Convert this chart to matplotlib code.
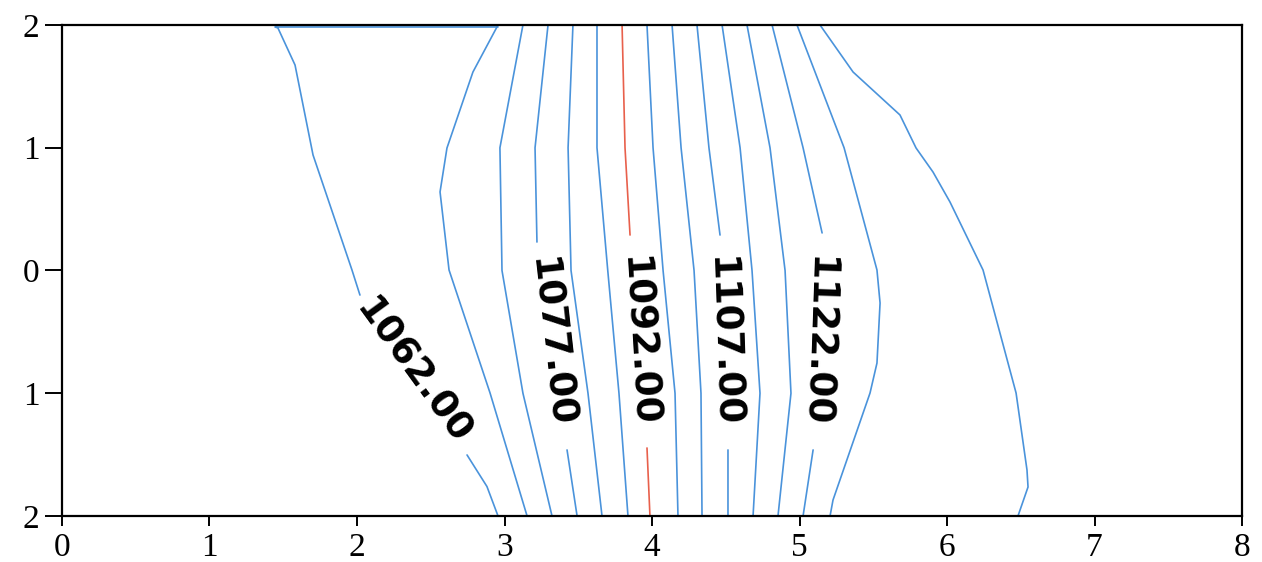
import numpy as np
import matplotlib
matplotlib.use("Agg")
import matplotlib.pyplot as plt

nan = np.nan

# contour levels and the traced line for each one (data units, nan = gap at a label)
levels = [1062, 1067, 1072, 1077, 1082, 1087, 1092, 1097, 1102, 1107, 1112, 1117, 1122, 1127, 1132]
rows = [2, 1, 0, -1, -2]

x_1062 = [2.956, 1.444, 1.464, 1.580, 1.702, 1.966, 2.020, nan, 2.746, 2.881, 2.956]
y_1062 = [1.984, 1.984, 1.976, 1.674, 0.941, 0.004, -0.200, nan, -1.503, -1.760, -2.0]
x_1067 = [2.956, 2.786, 2.610, 2.563, 2.624, 2.902, 3.153]
y_1067 = [2.0, 1.617, 0.998, 0.640, 0.004, -0.998, -2.0]
x_1072 = [3.125, 2.969, 2.983, 3.125, 3.322]
x_1077 = [3.295, 3.207, 3.220, nan, 3.424, 3.492]
y_1077 = [2, 1, 0.232, nan, -1.462, -2]
x_1082 = [3.464, 3.431, 3.451, 3.566, 3.661]
x_1087 = [3.627, 3.627, 3.700, 3.776, 3.837]
x_1092 = [3.797, 3.817, 3.851, nan, 3.966, 3.986]
y_1092 = [2, 1, 0.289, nan, -1.446, -2]
x_1097 = [3.966, 4.007, 4.075, 4.156, 4.176]
x_1102 = [4.136, 4.197, 4.285, 4.332, 4.339]
x_1107 = [4.305, 4.386, 4.461, nan, 4.515, 4.515]
y_1107 = [2, 1, 0.289, nan, -1.462, -2]
x_1112 = [4.475, 4.597, 4.678, 4.732, 4.685]
x_1117 = [4.644, 4.800, 4.902, 4.942, 4.854]
x_1122 = [4.814, 5.024, 5.153, nan, 5.092, 5.024]
y_1122 = [2, 1, 0.306, nan, -1.462, -2]
x_1127 = [4.983, 5.302, 5.525, 5.546, 5.525, 5.478, 5.227, 5.207]
y_1127 = [2, 1, 0.004, -0.265, -0.754, -0.998, -1.870, -2.0]
x_1132 = [5.139, 5.363, 5.681, 5.790, 5.905, 6.020, 6.244, 6.468, 6.542, 6.549, 6.481]
y_1132 = [2, 1.617, 1.267, 0.998, 0.802, 0.558, 0.004, -0.998, -1.625, -1.764, -2.0]

lines = {
    1062: (x_1062, y_1062), 1067: (x_1067, y_1067), 1072: (x_1072, rows),
    1077: (x_1077, y_1077), 1082: (x_1082, rows), 1087: (x_1087, rows),
    1092: (x_1092, y_1092), 1097: (x_1097, rows), 1102: (x_1102, rows),
    1107: (x_1107, y_1107), 1112: (x_1112, rows), 1117: (x_1117, rows),
    1122: (x_1122, y_1122), 1127: (x_1127, y_1127), 1132: (x_1132, y_1132),
}

labelled = [1062, 1077, 1092, 1107, 1122]
xticks = [0, 1, 2, 3, 4, 5, 6, 7, 8]
yticks = [-2, -1, 0, 1, 2]
ytick_labels = ["2", "1", "0", "1", "2"]

# label placement (x, y, rotation)
label_pos = {
    1062: (2.373, -0.827, -54),
    1077: (3.308, -0.591, -83.5),
    1092: (3.905, -0.583, -86.5),
    1107: (4.475, -0.583, -88),
    1122: (5.112, -0.583, -92),
}

fig = plt.figure(figsize=(12.62, 5.62), dpi=100)
ax = fig.add_axes([0.0491, 0.0819, 0.9351, 0.8736])

for lv in levels:
    xs, ys = lines[lv]
    color = "#e8604c" if lv == 1092 else "#4a93db"
    ax.plot(xs, ys, color=color, lw=1.2, solid_capstyle="round")

for lv in labelled:
    lx, ly, rot = label_pos[lv]
    ax.text(lx, ly, f"{lv:.2f}", rotation=rot, rotation_mode="anchor",
            ha="center", va="center", fontsize=27, fontweight="bold",
            family="DejaVu Sans", color="black")

ax.set_xlim(0, 8)
ax.set_ylim(-2, 2)
ax.set_xticks(xticks)
ax.set_yticks(yticks)
ax.set_yticklabels(ytick_labels)
for lab in ax.get_xticklabels() + ax.get_yticklabels():
    lab.set_family("Liberation Serif")
    lab.set_fontsize(24)
ax.tick_params(axis="x", direction="out", length=7, width=1.4, pad=5)
ax.tick_params(axis="y", direction="out", length=12, width=1.4, pad=4)
for sp in ax.spines.values():
    sp.set_linewidth(1.6)

fig.savefig("out.png", dpi=100)
